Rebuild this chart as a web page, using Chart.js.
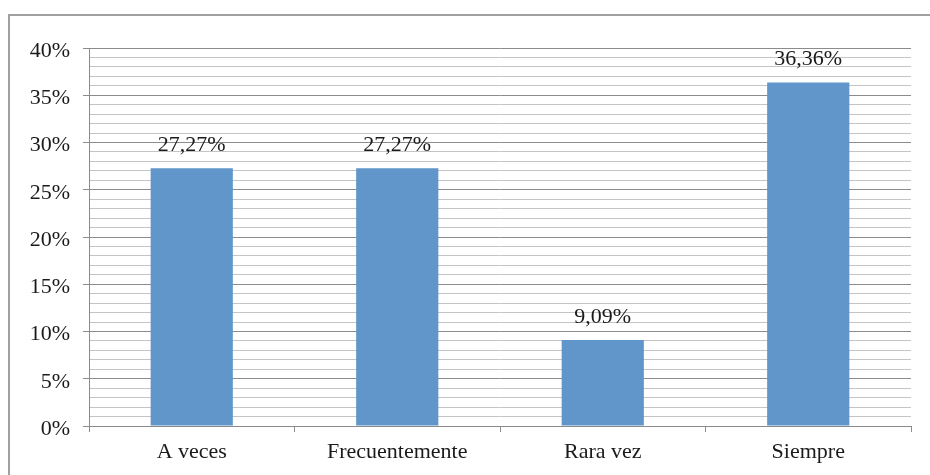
<!DOCTYPE html>
<html>
<head>
<meta charset="utf-8">
<script src="https://cdn.jsdelivr.net/npm/chart.js@4/dist/chart.umd.min.js"></script>
<style>
  html, body { margin: 0; padding: 0; background: #fff; overflow: hidden; }
  #wrap { position: relative; width: 930px; height: 475px; }
  #frame {
    position: absolute; left: 8px; top: 14px; width: 960px; height: 500px;
    border: 2px solid #a0a0a0; box-sizing: border-box;
  }
  #myChart { position: absolute; left: 0; top: 0; }
</style>
</head>
<body>
<div id="wrap">
  <div id="frame"></div>
  <canvas id="myChart" width="930" height="475"></canvas>
</div>
<script>
// categories and shares (percent)
const categories = ['A veces', 'Frecuentemente', 'Rara vez', 'Siempre'];
const shares = [27.27, 27.27, 9.09, 36.36];
const yMax = 40;
const yMajorStep = 5;

const FONT = '"Liberation Serif", "Times New Roman", serif';
const FONT_SIZE = 22;

function fmtPct(v) {
  return v.toFixed(2).replace('.', ',') + '%';
}

// draws the value above each bar
const barLabels = {
  id: 'barLabels',
  afterDatasetsDraw(chart) {
    const ctx = chart.ctx;
    const meta = chart.getDatasetMeta(0);
    ctx.save();
    ctx.font = FONT_SIZE + 'px ' + FONT;
    ctx.fillStyle = '#1a1a1a';
    ctx.textAlign = 'center';
    ctx.textBaseline = 'alphabetic';
    meta.data.forEach((bar, i) => {
      ctx.fillText(fmtPct(shares[i]), bar.x, bar.y - 17);
    });
    ctx.restore();
  }
};

const ctx = document.getElementById('myChart');
const chart = new Chart(ctx, {
  type: 'bar',
  data: {
    labels: categories,
    datasets: [{
      data: shares,
      backgroundColor: '#6096ca',
      borderWidth: 0,
      categoryPercentage: 0.4,
      barPercentage: 1.0
    }]
  },
  options: {
    responsive: false,
    animation: false,
    layout: { padding: { top: 48, right: 19, left: 0, bottom: 0 } },
    plugins: {
      legend: { display: false },
      tooltip: { enabled: false },
      title: { display: false }
    },
    scales: {
      y: {
        min: 0,
        max: yMax,
        afterFit(scale) { scale.width = 89; },
        border: { color: '#8a8a8a', width: 1 },
        ticks: {
          stepSize: 1,
          autoSkip: false,
          padding: 13,
          labelOffset: 3,
          color: '#1a1a1a',
          font: { family: FONT, size: FONT_SIZE },
          callback: (v) => (v % yMajorStep === 0 ? v + '%' : '')
        },
        grid: {
          tickLength: 6,
          lineWidth: 1,
          color: (c) => (c.tick && c.tick.value % yMajorStep === 0 ? '#8c8c8c' : '#c4c4c4'),
          tickColor: (c) => (c.tick && c.tick.value % yMajorStep === 0 ? '#8c8c8c' : 'rgba(0,0,0,0)')
        }
      },
      x: {
        afterFit(scale) { scale.height = 49; },
        border: { color: '#8a8a8a', width: 1 },
        ticks: {
          padding: 7,
          color: '#1a1a1a',
          font: { family: FONT, size: FONT_SIZE },
          maxRotation: 0
        },
        grid: {
          offset: true,
          drawOnChartArea: false,
          tickLength: 6,
          color: '#8c8c8c'
        }
      }
    }
  },
  plugins: [barLabels]
});
</script>
</body>
</html>
